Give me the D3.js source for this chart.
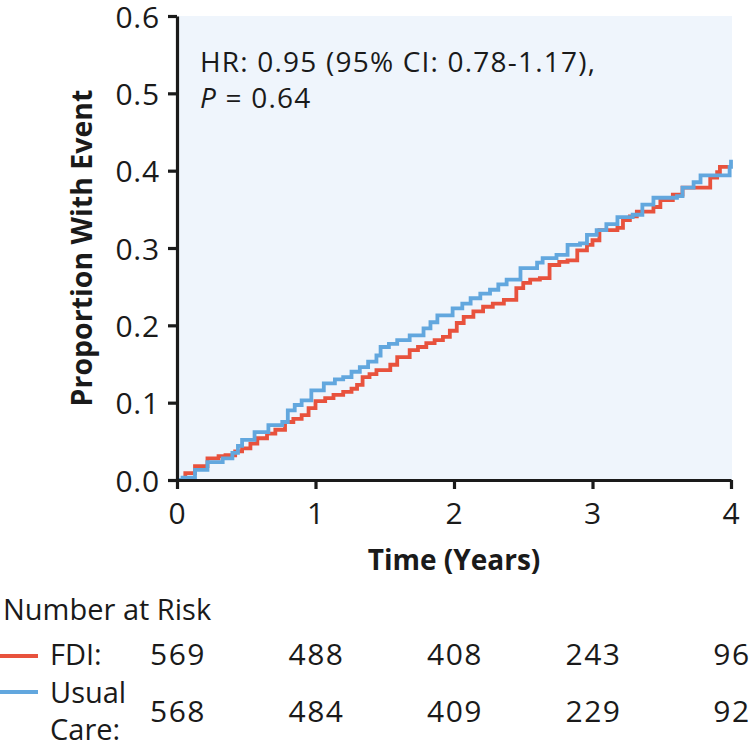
<!DOCTYPE html>
<html><head><meta charset="utf-8">
<script src="https://cdn.jsdelivr.net/npm/d3@7"></script>
<style>body{margin:0;background:#fff}svg{display:block}text{font-family:"Open Sans","Noto Sans",sans-serif;fill:#1a1a1a}</style>
</head><body><svg id="c" width="752" height="749"></svg>
<script>
const fdiTime = [0,0.06,0.13,0.22,0.30,0.35,0.42,0.47,0.53,0.58,0.65,0.71,0.78,0.84,0.90,0.95,1.00,1.07,1.13,1.20,1.26,1.30,1.34,1.39,1.44,1.54,1.59,1.68,1.74,1.80,1.86,1.92,1.97,2.02,2.07,2.14,2.21,2.28,2.36,2.45,2.50,2.55,2.62,2.69,2.76,2.82,2.89,2.96,3.00,3.05,3.18,3.22,3.27,3.32,3.44,3.49,3.58,3.65,3.83,3.85,3.90,3.92,4.00];
const fdiValue = [0,0.009,0.018,0.028,0.031,0.032,0.037,0.041,0.047,0.054,0.060,0.065,0.075,0.079,0.084,0.093,0.102,0.106,0.110,0.114,0.118,0.123,0.133,0.137,0.142,0.149,0.159,0.168,0.172,0.177,0.181,0.185,0.193,0.203,0.211,0.218,0.224,0.228,0.233,0.248,0.255,0.259,0.261,0.278,0.282,0.284,0.297,0.304,0.310,0.323,0.326,0.336,0.341,0.347,0.353,0.362,0.369,0.378,0.378,0.391,0.398,0.405,0.405];
const ucTime = [0,0.04,0.13,0.22,0.33,0.40,0.44,0.47,0.56,0.66,0.76,0.80,0.85,0.90,0.97,1.06,1.14,1.20,1.26,1.32,1.38,1.44,1.47,1.53,1.59,1.68,1.78,1.83,1.88,1.99,2.06,2.12,2.19,2.26,2.32,2.38,2.48,2.60,2.64,2.74,2.82,2.91,2.96,3.03,3.10,3.18,3.29,3.36,3.44,3.61,3.65,3.73,3.78,3.97,3.99,4.00];
const ucValue = [0,0.003,0.013,0.023,0.028,0.035,0.044,0.052,0.062,0.071,0.075,0.090,0.097,0.103,0.116,0.125,0.130,0.133,0.140,0.146,0.153,0.161,0.172,0.176,0.181,0.187,0.196,0.204,0.213,0.222,0.228,0.235,0.241,0.246,0.253,0.259,0.274,0.281,0.287,0.291,0.304,0.306,0.317,0.323,0.331,0.340,0.343,0.356,0.365,0.367,0.378,0.385,0.394,0.394,0.405,0.414];
const xTicks = [0,1,2,3,4];
const yTicks = [0,0.1,0.2,0.3,0.4,0.5,0.6];
const riskFDI = [569,488,408,243,96];
const riskUC = [568,484,409,229,92];

const svg = d3.select("#c");
const x = d3.scaleLinear().domain([0,4]).range([177,731]);
const y = d3.scaleLinear().domain([0,0.6]).range([480,16]);
const RED = "#e8523d", BLUE = "#62a7de";

svg.append("rect").attr("x",x(0)).attr("y",y(0.6)).attr("width",x(4)-x(0)+1).attr("height",y(0)-y(0.6)).attr("fill","#eff5fc");

const line = d3.line().x(d=>x(d[0])).y(d=>y(d[1])).curve(d3.curveStepAfter);
svg.append("path").datum(d3.zip(fdiTime,fdiValue)).attr("d",line).attr("fill","none").attr("stroke",RED).attr("stroke-width",3.8);
svg.append("path").datum(d3.zip(ucTime,ucValue)).attr("d",line).attr("fill","none").attr("stroke",BLUE).attr("stroke-width",3.8);

const ya = svg.append("g").attr("transform",`translate(${x(0)},0)`)
  .call(d3.axisLeft(y).tickValues(yTicks).tickFormat(d3.format(".1f")).tickSize(9).tickSizeOuter(0).tickPadding(9));
const xa = svg.append("g").attr("transform",`translate(0,${y(0)})`)
  .call(d3.axisBottom(x).tickValues(xTicks).tickFormat(d3.format("d")).tickSize(9).tickSizeOuter(0).tickPadding(8));
[ya,xa].forEach(a=>{
  a.select(".domain").attr("stroke","#1a1a1a").attr("stroke-width",3.2);
  a.selectAll(".tick line").attr("stroke","#1a1a1a").attr("stroke-width",3.2);
  a.selectAll(".tick text").attr("font-size",30).attr("fill","#1a1a1a").attr("font-family","'Open Sans',sans-serif").attr("letter-spacing",0.8);
});
ya.selectAll(".tick text").attr("dy","0.37em").attr("dx",1);
xa.selectAll(".tick text").attr("dy","0.9em");

svg.append("text").attr("transform",`translate(92,248) rotate(-90)`).attr("text-anchor","middle")
  .attr("font-size",28.5).attr("font-weight","bold").text("Proportion With Event");
svg.append("text").attr("x",x(2)).attr("y",570).attr("text-anchor","middle")
  .attr("font-size",28).attr("font-weight","bold").text("Time (Years)");

const ann = svg.append("text").attr("font-size",28).attr("letter-spacing",1.2);
ann.append("tspan").attr("x",200).attr("y",72).text("HR: 0.95 (95% CI: 0.78-1.17),");
const l2 = svg.append("text").attr("font-size",28).attr("letter-spacing",1.2).attr("x",200).attr("y",108);
l2.append("tspan").attr("font-style","italic").text("P");
l2.append("tspan").text(" = 0.64");

svg.append("text").attr("x",3).attr("y",620).attr("font-size",29).text("Number at Risk");
svg.append("line").attr("x1",0).attr("x2",38).attr("y1",656).attr("y2",656).attr("stroke",RED).attr("stroke-width",3.8);
svg.append("line").attr("x1",0).attr("x2",38).attr("y1",692).attr("y2",692).attr("stroke",BLUE).attr("stroke-width",3.8);
svg.append("text").attr("x",50).attr("y",665).attr("font-size",29).text("FDI:");
svg.append("text").attr("x",50).attr("y",703).attr("font-size",29).text("Usual");
svg.append("text").attr("x",50).attr("y",740).attr("font-size",29).text("Care:");
svg.append("g").selectAll("text").data(riskFDI).join("text").attr("x",(d,i)=>x(xTicks[i])+1).attr("y",665)
  .attr("text-anchor","middle").attr("font-size",30).attr("letter-spacing",1.5).text(d=>d);
svg.append("g").selectAll("text").data(riskUC).join("text").attr("x",(d,i)=>x(xTicks[i])+1).attr("y",722)
  .attr("text-anchor","middle").attr("font-size",30).attr("letter-spacing",1.5).text(d=>d);
</script></body></html>
